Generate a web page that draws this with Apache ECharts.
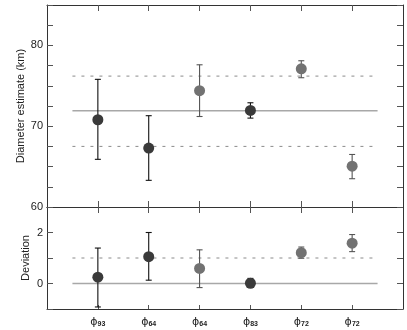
<!DOCTYPE html>
<html><head><meta charset="utf-8">
<script src="https://cdn.jsdelivr.net/npm/echarts@6/dist/echarts.min.js"></script>
<style>html,body{margin:0;padding:0;background:#fff}#c{width:407px;height:330px}</style>
</head><body><div id="c"></div>
<script>
const categories = ['93','64','64','83','72','72'];
const tone = ['dark','dark','light','dark','light','light'];
const diam = [70.8, 67.3, 74.4, 71.95, 77.1, 65.05];
const diamHi = [75.8, 71.3, 77.6, 72.9, 78.1, 66.5];
const diamLo = [65.9, 63.3, 71.2, 71.0, 76.0, 63.5];
const dev = [0.25, 1.05, 0.59, 0.01, 1.21, 1.58];
const devHi = [1.39, 2.0, 1.32, 0.2, 1.43, 1.92];
const devLo = [-0.92, 0.13, -0.16, -0.15, 0.99, 1.25];
const meanLine = 71.9, bandHi = 76.2, bandLo = 67.5;
const devRef = 0, devBand = 1;

const DARK = '#3a3a3a', LIGHT = '#727272';
const font = 'Liberation Sans';
const chart = echarts.init(document.getElementById('c'));
const xs = [1,2,3,4,5,6];

function pts(vals, which){ return vals.map((v,i)=>tone[i]===which?[i+1,v]:null).filter(Boolean); }
function errData(hi, lo){ return hi.map((h,i)=>[i+1, lo[i], h, tone[i]==='dark'?0:1]); }
function errSeries(hi, lo, ax){
  return {type:'custom', xAxisIndex:ax, yAxisIndex:ax, data:errData(hi,lo), z:3,
    renderItem:(p,api)=>{
      const x=api.value(0), lo=api.value(1), hi=api.value(2), t=api.value(3);
      const a=api.coord([x,lo]), b=api.coord([x,hi]);
      const col = t===0 ? '#111' : '#555';
      const st={stroke:col,lineWidth:1.1};
      return {type:'group',children:[
        {type:'line',shape:{x1:a[0],y1:a[1],x2:b[0],y2:b[1]},style:st},
        {type:'line',shape:{x1:a[0]-3,y1:a[1],x2:a[0]+3,y2:a[1]},style:st},
        {type:'line',shape:{x1:b[0]-3,y1:b[1],x2:b[0]+3,y2:b[1]},style:st}
      ]};
    }};
}
function hline(v, ax, dashed){
  return {type:'line', xAxisIndex:ax, yAxisIndex:ax, data:[[0.5,v],[6.5,v]], symbol:'none', silent:true, z:1,
    lineStyle:{color: dashed?'#8a8a8a':'#a8a8a8', width: dashed?1:1.5, type: dashed?[3,6]:'solid'}};
}
function scat(vals, which, ax){
  return {type:'scatter', xAxisIndex:ax, yAxisIndex:ax, data:pts(vals,which), symbolSize:11, z:4,
    itemStyle:{color: which==='dark'?DARK:LIGHT, opacity:1}};
}
const axLine = {show:true, onZero:false, lineStyle:{color:'#333', width:1}};
function xAx(grid, pos, showLabels, tickLen){
  return {type:'value', gridIndex:grid, position:pos, min:0, max:7, interval:1,
    axisLine:axLine, splitLine:{show:false},
    axisTick:{show:true, inside:true, length:tickLen, customValues:xs, lineStyle:{color:'#555'}},
    axisLabel:{show:showLabels, customValues:xs, margin:7,
      formatter:v=>{const c=categories[Math.round(v)-1]; return c?'{a|ϕ}{b|'+c+'}':'';},
      rich:{a:{fontFamily:'DejaVu Sans',fontSize:11,color:'#222'}, b:{fontFamily:font,fontSize:7,fontWeight:'bold',color:'#222',padding:[5,0,0,0]}}}};
}
function yAx(grid, pos, min, max, interval, labelVals, name, nameGap){
  return {type:'value', gridIndex:grid, position:pos, min, max, interval,
    name: name||'', nameLocation:'middle', nameGap: nameGap||0, nameMoveOverlap:false,
    nameTextStyle:{fontFamily:font, fontSize:11, color:'#222'},
    axisLine:axLine, splitLine:{show:false},
    axisTick:{show:true, inside:true, length:6, lineStyle:{color:'#555'}},
    axisLabel:{show: !!labelVals, margin:4, fontFamily:font, fontSize:11, color:'#222',
      formatter:v=> labelVals && labelVals.includes(v) ? String(v) : ''}};
}
chart.setOption({
  animation:false,
  grid:[{left:47, top:5, width:356, height:202}, {left:47, top:207, width:356, height:102}],
  xAxis:[xAx(0,'bottom',false,6), xAx(1,'bottom',true,4), xAx(0,'top',false,6), xAx(1,'top',false,6)],
  yAxis:[yAx(0,'left',60,85,2.5,[60,70,80],'Diameter estimate (km)',21),
         yAx(1,'left',-1,3,1,[0,2],'Deviation',16),
         yAx(0,'right',60,85,2.5,null), yAx(1,'right',-1,3,1,null)],
  series:[
    hline(meanLine,0,false), hline(bandHi,0,true), hline(bandLo,0,true),
    hline(devRef,1,false), hline(devBand,1,true),
    scat(diam,'dark',0), scat(diam,'light',0), errSeries(diamHi,diamLo,0),
    scat(dev,'dark',1), scat(dev,'light',1), errSeries(devHi,devLo,1)
  ]
});
</script></body></html>
